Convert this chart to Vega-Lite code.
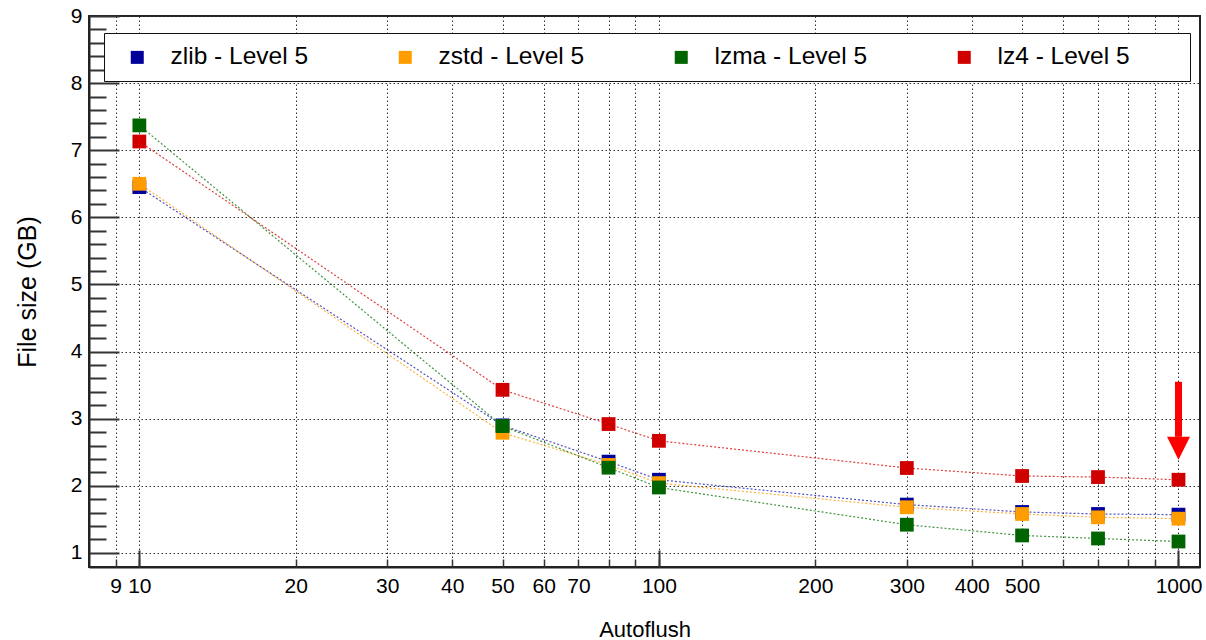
{
  "$schema": "https://vega.github.io/schema/vega-lite/v6.json",
  "width": 1111,
  "height": 551,
  "autosize": {"type": "none"},
  "padding": {"left": 89, "top": 16, "right": 6, "bottom": 73},
  "background": "white",
  "config": {
    "font": "Liberation Sans",
    "view": {"stroke": "#222", "strokeWidth": 2},
    "axis": {"labelFont": "Liberation Sans", "titleFont": "Liberation Sans", "labelColor": "black", "titleColor": "black", "titleFontWeight": "normal"}
  },
  "datasets": {
    "sizes": [
      {"series": "zlib - Level 5", "autoflush": 10, "size": 6.45},
      {"series": "zlib - Level 5", "autoflush": 50, "size": 2.90},
      {"series": "zlib - Level 5", "autoflush": 80, "size": 2.36},
      {"series": "zlib - Level 5", "autoflush": 100, "size": 2.09},
      {"series": "zlib - Level 5", "autoflush": 300, "size": 1.72},
      {"series": "zlib - Level 5", "autoflush": 500, "size": 1.61},
      {"series": "zlib - Level 5", "autoflush": 700, "size": 1.58},
      {"series": "zlib - Level 5", "autoflush": 1000, "size": 1.57},
      {"series": "zstd - Level 5", "autoflush": 10, "size": 6.50},
      {"series": "zstd - Level 5", "autoflush": 50, "size": 2.79},
      {"series": "zstd - Level 5", "autoflush": 80, "size": 2.31},
      {"series": "zstd - Level 5", "autoflush": 100, "size": 2.04},
      {"series": "zstd - Level 5", "autoflush": 300, "size": 1.68},
      {"series": "zstd - Level 5", "autoflush": 500, "size": 1.58},
      {"series": "zstd - Level 5", "autoflush": 700, "size": 1.53},
      {"series": "zstd - Level 5", "autoflush": 1000, "size": 1.51},
      {"series": "lzma - Level 5", "autoflush": 10, "size": 7.37},
      {"series": "lzma - Level 5", "autoflush": 50, "size": 2.89},
      {"series": "lzma - Level 5", "autoflush": 80, "size": 2.27},
      {"series": "lzma - Level 5", "autoflush": 100, "size": 1.975},
      {"series": "lzma - Level 5", "autoflush": 300, "size": 1.42},
      {"series": "lzma - Level 5", "autoflush": 500, "size": 1.26},
      {"series": "lzma - Level 5", "autoflush": 700, "size": 1.215},
      {"series": "lzma - Level 5", "autoflush": 1000, "size": 1.17},
      {"series": "lz4 - Level 5", "autoflush": 10, "size": 7.13},
      {"series": "lz4 - Level 5", "autoflush": 50, "size": 3.43},
      {"series": "lz4 - Level 5", "autoflush": 80, "size": 2.92},
      {"series": "lz4 - Level 5", "autoflush": 100, "size": 2.67},
      {"series": "lz4 - Level 5", "autoflush": 300, "size": 2.265},
      {"series": "lz4 - Level 5", "autoflush": 500, "size": 2.146},
      {"series": "lz4 - Level 5", "autoflush": 700, "size": 2.13},
      {"series": "lz4 - Level 5", "autoflush": 1000, "size": 2.09}
    ],
    "arrow": [{"autoflush": 1000, "top": 3.55, "base": 2.73, "tip": 2.56}]
  },
  "resolve": {"axis": {"x": "independent", "y": "independent"}},
  "layer": [
    {
      "data": {"name": "sizes"},
      "mark": {"type": "line", "strokeDash": [2, 2], "strokeWidth": 1.2, "opacity": 0.75},
      "encoding": {
        "x": {
          "field": "autoflush", "type": "quantitative",
          "scale": {"type": "log", "domain": [8, 1100], "nice": false},
          "axis": {
            "orient": "bottom", "title": "Autoflush",
            "values": [9, 10, 20, 30, 40, 50, 60, 70, 80, 90, 100, 200, 300, 400, 500, 600, 700, 800, 900, 1000],
            "labelExpr": "indexof([80, 90, 600, 700, 800, 900], datum.value) >= 0 ? '' : datum.label",
            "format": "d",
            "labelOverlap": false, "labelFlush": false, "labelFontSize": 21, "labelPadding": 8,
            "ticks": false, "grid": true, "gridColor": "#333", "gridDash": [1.5, 2.5], "gridWidth": 1,
            "domain": true, "domainColor": "#222", "domainWidth": 2,
            "titleFontSize": 22, "titlePadding": 23
          }
        },
        "y": {
          "field": "size", "type": "quantitative",
          "scale": {"domain": [0.79, 9], "nice": false, "zero": false},
          "axis": {
            "orient": "left", "title": "File size (GB)",
            "values": [1, 2, 3, 4, 5, 6, 7, 8, 9],
            "labelFontSize": 21, "labelPadding": 7, "labelOverlap": false, "labelFlush": false,
            "ticks": false, "grid": true, "gridColor": "#333", "gridDash": [1.5, 2.5], "gridWidth": 1,
            "domain": true, "domainColor": "#222", "domainWidth": 2,
            "titleFontSize": 25, "titlePadding": 30
          }
        },
        "stroke": {
          "field": "series", "type": "nominal",
          "scale": {"domain": ["lz4 - Level 5", "lzma - Level 5", "zlib - Level 5", "zstd - Level 5"], "range": ["#d00000", "#007000", "#1a1ab0", "#ff9900"]},
          "legend": null
        }
      }
    },
    {
      "data": {"name": "sizes"},
      "mark": {"type": "point", "shape": "square", "filled": true, "size": 190, "opacity": 1},
      "encoding": {
        "x": {
          "field": "autoflush", "type": "quantitative",
          "axis": {
            "orient": "bottom", "title": null, "labels": false, "grid": false, "domain": false,
            "values": [9, 10, 20, 30, 40, 50, 60, 70, 80, 90, 100, 200, 300, 400, 500, 600, 700, 800, 900, 1000],
            "ticks": true, "tickSize": -8, "tickColor": "#333", "tickWidth": 1.5
          }
        },
        "y": {
          "field": "size", "type": "quantitative",
          "axis": {
            "orient": "left", "title": null, "labels": false, "grid": false, "domain": false,
            "values": [1, 2, 3, 4, 5, 6, 7, 8, 9],
            "ticks": true, "tickSize": -30, "tickColor": "#333", "tickWidth": 2
          }
        },
        "color": {
          "field": "series", "type": "nominal",
          "scale": {"domain": ["zlib - Level 5", "zstd - Level 5", "lzma - Level 5", "lz4 - Level 5"], "range": ["#00009b", "#ff9d00", "#006400", "#d00000"]},
          "legend": {
            "orient": "none", "legendX": 15, "legendY": 17, "direction": "horizontal",
            "title": "MM", "titleOrient": "right", "titleColor": "white", "titleFontSize": 20, "titlePadding": 14,
            "padding": 12, "fillColor": "white", "strokeColor": "#111",
            "symbolType": "square", "symbolSize": 169, "symbolStrokeWidth": 0, "symbolOffset": 9,
            "labelOffset": 21, "labelFont": "Liberation Sans", "labelFontSize": 24.5, "labelColor": "black",
            "columnPadding": 75, "labelLimit": 400
          }
        }
      }
    },
    {
      "data": {"name": "arrow"},
      "mark": {"type": "rule", "color": "#ff0000", "strokeWidth": 7},
      "encoding": {
        "x": {
          "field": "autoflush", "type": "quantitative",
          "axis": {
            "orient": "bottom", "title": null, "labels": false, "grid": false, "domain": false,
            "values": [10, 100, 1000],
            "ticks": true, "tickSize": -17, "tickColor": "#333", "tickWidth": 2
          }
        },
        "y": {
          "field": "top", "type": "quantitative",
          "axis": {
            "orient": "left", "title": null, "labels": false, "grid": false, "domain": false,
            "values": [1.2, 1.4, 1.6, 1.8, 2.2, 2.4, 2.6, 2.8, 3.2, 3.4, 3.6, 3.8, 4.2, 4.4, 4.6, 4.8, 5.2, 5.4, 5.6, 5.8, 6.2, 6.4, 6.6, 6.8, 7.2, 7.4, 7.6, 7.8, 8.2, 8.4, 8.6, 8.8],
            "ticks": true, "tickSize": -17, "tickColor": "#333", "tickWidth": 2
          }
        },
        "y2": {"field": "base"}
      }
    },
    {
      "data": {"name": "arrow"},
      "mark": {"type": "point", "shape": "M-1,-1L1,-1L0,1Z", "filled": true, "color": "#ff0000", "size": 529, "opacity": 1},
      "encoding": {
        "x": {"field": "autoflush", "type": "quantitative", "axis": null},
        "y": {"field": "tip", "type": "quantitative", "axis": null}
      }
    }
  ]
}
